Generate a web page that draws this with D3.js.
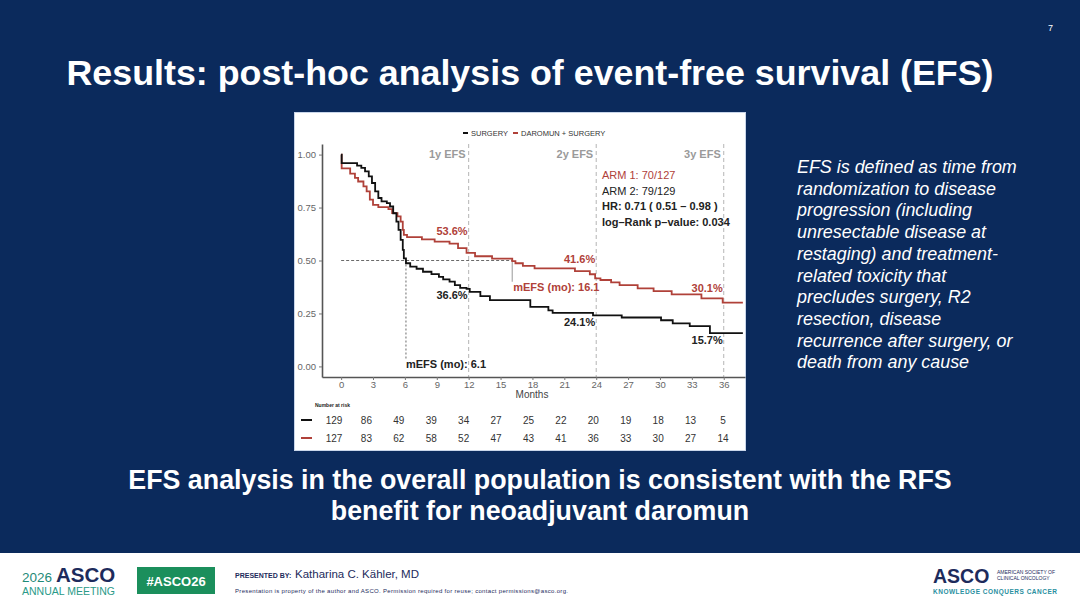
<!DOCTYPE html>
<html>
<head>
<meta charset="utf-8">
<script src="https://cdn.jsdelivr.net/npm/d3@7"></script>
<style>
  html, body { margin: 0; padding: 0; background: #0b2a5c; }
  svg { display: block; font-family: "Liberation Sans", Arial, sans-serif; }
</style>
</head>
<body>
<svg id="slide" width="1080" height="608"></svg>
<script>
// KM step points (months, survival probability)
let surgeryTimes = [0, 0.05, 1.5, 1.9, 2.25, 2.6, 2.9, 3.2, 3.5, 3.8, 4.3, 4.6, 4.9, 5.2, 5.4, 5.6, 5.8, 5.9, 6.1, 6.5, 7.1, 7.7, 8.5, 9.2, 9.6, 10.2, 10.7, 11.2, 11.8, 12.1, 13.1, 14.0, 17.8, 19.5, 19.9, 23.7, 26.4, 30.1, 31.2, 32.8, 34.7, 37.8];
let surgerySurv  = [1.0, 0.96, 0.948, 0.937, 0.921, 0.897, 0.866, 0.826, 0.795, 0.779, 0.771, 0.755, 0.723, 0.684, 0.645, 0.597, 0.55, 0.51, 0.487, 0.471, 0.461, 0.447, 0.436, 0.423, 0.411, 0.40, 0.384, 0.371, 0.366, 0.352, 0.332, 0.313, 0.281, 0.265, 0.253, 0.241, 0.231, 0.218, 0.203, 0.19, 0.157, 0.157];

let daromunTimes = [0, 0.05, 0.85, 1.3, 1.6, 2.1, 2.4, 2.7, 3.0, 3.5, 4.45, 4.8, 5.3, 5.6, 5.8, 5.9, 6.2, 7.6, 8.8, 10.2, 11.0, 11.8, 12.6, 14.2, 16.1, 16.4, 17.1, 18.2, 22.0, 23.4, 23.9, 24.4, 25.4, 26.2, 27.9, 29.4, 31.1, 33.9, 35.9, 37.8];
let daromunSurv  = [1.0, 0.935, 0.91, 0.89, 0.873, 0.85, 0.826, 0.787, 0.763, 0.752, 0.743, 0.724, 0.708, 0.684, 0.645, 0.621, 0.61, 0.60, 0.589, 0.58, 0.558, 0.536, 0.52, 0.509, 0.497, 0.487, 0.475, 0.463, 0.45, 0.435, 0.416, 0.408, 0.397, 0.384, 0.368, 0.355, 0.34, 0.321, 0.301, 0.301];

let yTicks = [0, 0.25, 0.5, 0.75, 1.0];
let xTicks = [0, 3, 6, 9, 12, 15, 18, 21, 24, 27, 30, 33, 36];
let riskSurgery = [129, 86, 49, 39, 34, 27, 25, 22, 20, 19, 18, 13, 5];
let riskDaromun = [127, 83, 62, 58, 52, 47, 43, 41, 36, 33, 30, 27, 14];

let landmarkMonths = [12, 24, 36];
let landmarkLabels = ['1y EFS', '2y EFS', '3y EFS'];
let surgeryPct = ['36.6%', '24.1%', '15.7%'];
let daromunPct = ['53.6%', '41.6%', '30.1%'];
let medianSurgery = 6.1;
let medianDaromun = 16.1;

let statLines = ['ARM 1: 70/127', 'ARM 2: 79/129', 'HR:  0.71 ( 0.51 \u2013 0.98 )', 'log\u2013Rank p\u2013value: 0.034'];

let noteLines = ['EFS is defined as time from', 'randomization to disease', 'progression (including',
  'unresectable disease at', 'restaging) and treatment-', 'related toxicity that',
  'precludes surgery, R2', 'resection, disease', 'recurrence after surgery, or', 'death from any cause'];

let RED = '#b04139';
let BLACK = '#111111';

let svg = d3.select('#slide');

// slide background + footer
svg.append('rect').attr('width', 1080).attr('height', 608).attr('fill', '#0b2a5c');
svg.append('rect').attr('y', 553).attr('width', 1080).attr('height', 55).attr('fill', '#ffffff');

svg.append('text').attr('x', 1048).attr('y', 31).attr('fill', '#fff').style('font-size', '9px').text('7');

svg.append('text').
    attr('x', 530).attr('y', 85).
    attr('text-anchor', 'middle').
    attr('fill', '#fff').
    style('font-size', '35.8px').style('font-weight', 'bold').
    text('Results: post-hoc analysis of event-free survival (EFS)');

// chart panel
svg.append('rect').attr('x', 294.5).attr('y', 112.5).attr('width', 451).attr('height', 338).
    attr('fill', '#fff').attr('stroke', '#c9d6ea').attr('stroke-width', 1);

let g = svg.append('g');
let x = d3.scaleLinear().domain([-1.8, 38]).range([322, 745]);
let y = d3.scaleLinear().domain([-0.05, 1.05]).range([377, 144]);

// landmark dashed verticals
landmarkMonths.forEach(function(m, i) {
  g.append('line').attr('x1', x(m)).attr('x2', x(m)).attr('y1', 144).attr('y2', 377).
      attr('stroke', '#b5b5b5').attr('stroke-width', 1).attr('stroke-dasharray', '4,3');
  g.append('text').attr('x', x(m) - 3).attr('y', 158).attr('text-anchor', 'end').
      attr('fill', '#9a9a9a').style('font-size', '11px').style('font-weight', 'bold').
      text(landmarkLabels[i]);
});

// axes
let yAxis = g.append('g').attr('transform', 'translate(322,0)').
    call(d3.axisLeft(y).tickValues(yTicks).tickFormat(d3.format('.2f')).tickSize(3).tickSizeOuter(0));
let xAxis = g.append('g').attr('transform', 'translate(0,377)').
    call(d3.axisBottom(x).tickValues(xTicks).tickSize(3).tickPadding(1).tickSizeOuter(0));
[yAxis, xAxis].forEach(function(a) {
  a.select('.domain').attr('stroke', '#555').attr('stroke-width', 1.6);
  a.selectAll('.tick line').attr('stroke', '#777');
  a.selectAll('.tick text').attr('fill', '#666').style('font-size', '9.5px').
      style('font-family', '"Liberation Sans", Arial, sans-serif');
});
g.append('text').attr('x', 532).attr('y', 398).attr('text-anchor', 'middle').
    attr('fill', '#444').style('font-size', '10px').text('Months');

// median reference lines
g.append('line').attr('x1', x(0)).attr('x2', x(medianDaromun)).attr('y1', y(0.5)).attr('y2', y(0.5)).
    attr('stroke', '#444').attr('stroke-width', 0.8).attr('stroke-dasharray', '3,2');
g.append('line').attr('x1', x(medianSurgery)).attr('x2', x(medianSurgery)).attr('y1', y(0.5)).attr('y2', y(0.03)).
    attr('stroke', '#444').attr('stroke-width', 0.8).attr('stroke-dasharray', '2,2');
g.append('line').attr('x1', x(medianDaromun)).attr('x2', x(medianDaromun)).attr('y1', y(0.5)).attr('y2', y(0.40)).
    attr('stroke', '#aaa').attr('stroke-width', 1.2);

// curves
let line = d3.line().x(d => x(d[0])).y(d => y(d[1])).curve(d3.curveStepAfter);
g.append('path').datum(d3.zip(daromunTimes, daromunSurv)).
    attr('d', line).attr('fill', 'none').attr('stroke', RED).attr('stroke-width', 1.8);
g.append('path').datum(d3.zip(surgeryTimes, surgerySurv)).
    attr('d', line).attr('fill', 'none').attr('stroke', BLACK).attr('stroke-width', 1.8);

// landmark percent labels
let pctOffsetRed = [-18, -15, -11];
let pctOffsetBlack = [10, 11, 11];
landmarkMonths.forEach(function(m, i) {
  let sr = daromunSurv[d3.bisectRight(daromunTimes, m) - 1];
  let sb = surgerySurv[d3.bisectRight(surgeryTimes, m) - 1];
  g.append('text').attr('x', x(m) - 1).attr('y', y(sr) + pctOffsetRed[i]).attr('text-anchor', 'end').
      attr('fill', RED).style('font-size', '11px').style('font-weight', 'bold').text(daromunPct[i]);
  g.append('text').attr('x', x(m) - 1).attr('y', y(sb) + pctOffsetBlack[i]).attr('text-anchor', 'end').
      attr('fill', '#222').style('font-size', '11px').style('font-weight', 'bold').text(surgeryPct[i]);
});

g.append('text').attr('x', x(medianDaromun) + 1).attr('y', y(0.355)).
    attr('fill', RED).style('font-size', '11px').style('font-weight', 'bold').
    text('mEFS (mo): ' + medianDaromun);
g.append('text').attr('x', x(medianSurgery)).attr('y', y(0.0) + 2).
    attr('fill', '#222').style('font-size', '11px').style('font-weight', 'bold').
    text('mEFS (mo): ' + medianSurgery);

// stats box
statLines.forEach(function(t, i) {
  g.append('text').attr('x', 602).attr('y', 179 + i * 15.5).
      attr('fill', i === 0 ? RED : '#222').
      style('font-size', '11px').style('font-weight', i > 1 ? 'bold' : 'normal').
      text(t);
});

// legend
let leg = g.append('g').attr('transform', 'translate(463,133)');
leg.append('line').attr('x1', 0).attr('x2', 5).attr('stroke', BLACK).attr('stroke-width', 2);
leg.append('text').attr('x', 8).attr('y', 2.5).attr('fill', '#333').style('font-size', '7.5px').text('SURGERY');
leg.append('line').attr('x1', 50).attr('x2', 55).attr('stroke', RED).attr('stroke-width', 2);
leg.append('text').attr('x', 58).attr('y', 2.5).attr('fill', '#333').style('font-size', '7.5px').text('DAROMUN + SURGERY');

// number at risk table
let xr = d3.scaleLinear().domain([0, 36]).range([334, 723]);
g.append('text').attr('x', 315).attr('y', 407).attr('fill', '#222').
    style('font-size', '5px').style('font-weight', 'bold').text('Number at risk');
[[riskSurgery, BLACK, 420], [riskDaromun, RED, 438]].forEach(function(row) {
  g.append('line').attr('x1', 301).attr('x2', 312).attr('y1', row[2]).attr('y2', row[2]).
      attr('stroke', row[1]).attr('stroke-width', 2);
  g.selectAll(null).data(row[0]).enter().append('text').
      attr('x', (d, i) => xr(xTicks[i])).attr('y', row[2] + 3.5).
      attr('text-anchor', 'middle').attr('fill', '#333').style('font-size', '10px').
      text(d => d);
});

// right side note
noteLines.forEach(function(t, i) {
  svg.append('text').attr('x', 797).attr('y', 173 + i * 21.7).
      attr('fill', '#fff').style('font-size', '17.9px').style('font-style', 'italic').text(t);
});

// conclusion
['EFS analysis in the overall population is consistent with the RFS', 'benefit for neoadjuvant daromun'].
    forEach(function(t, i) {
  svg.append('text').attr('x', 540).attr('y', 489 + i * 31).attr('text-anchor', 'middle').
      attr('fill', '#fff').style('font-size', '26.8px').style('font-weight', 'bold').text(t);
});

// footer
let f = svg.append('g');
f.append('text').attr('x', 22).attr('y', 582).attr('fill', '#1f8a78').style('font-size', '13.5px').text('2026');
f.append('text').attr('x', 56).attr('y', 582).attr('fill', '#1d2b5c').style('font-size', '20.5px').
    style('font-weight', 'bold').text('ASCO');
f.append('text').attr('x', 22).attr('y', 595).attr('fill', '#2a9a88').style('font-size', '10.5px').
    attr('textLength', 93).text('ANNUAL MEETING');
f.append('rect').attr('x', 137).attr('y', 567).attr('width', 78).attr('height', 27).attr('fill', '#1b8f5c');
f.append('text').attr('x', 176).attr('y', 585.5).attr('text-anchor', 'middle').attr('fill', '#fff').
    style('font-size', '13px').style('font-weight', 'bold').text('#ASCO26');
f.append('text').attr('x', 235).attr('y', 578).attr('fill', '#1d2b5c').style('font-size', '7px').
    style('font-weight', 'bold').text('PRESENTED BY:');
f.append('text').attr('x', 295).attr('y', 578).attr('fill', '#1d2b5c').style('font-size', '11.5px').
    text('Katharina C. K\u00e4hler, MD');
f.append('text').attr('x', 235).attr('y', 593).attr('fill', '#1d2b5c').style('font-size', '6px').
    attr('textLength', 333).
    text('Presentation is property of the author and ASCO. Permission required for reuse; contact permissions@asco.org.');
f.append('text').attr('x', 933).attr('y', 583).attr('fill', '#1d2b5c').style('font-size', '19.5px').
    style('font-weight', 'bold').text('ASCO');
f.append('text').attr('x', 997).attr('y', 574).attr('fill', '#1d2b5c').style('font-size', '5px').text('AMERICAN SOCIETY OF');
f.append('text').attr('x', 997).attr('y', 580).attr('fill', '#1d2b5c').style('font-size', '5px').text('CLINICAL ONCOLOGY');
f.append('text').attr('x', 933).attr('y', 594).attr('fill', '#2a8fa0').style('font-size', '6.5px').
    style('font-weight', 'bold').attr('textLength', 124).text('KNOWLEDGE CONQUERS CANCER');
</script>
</body>
</html>
